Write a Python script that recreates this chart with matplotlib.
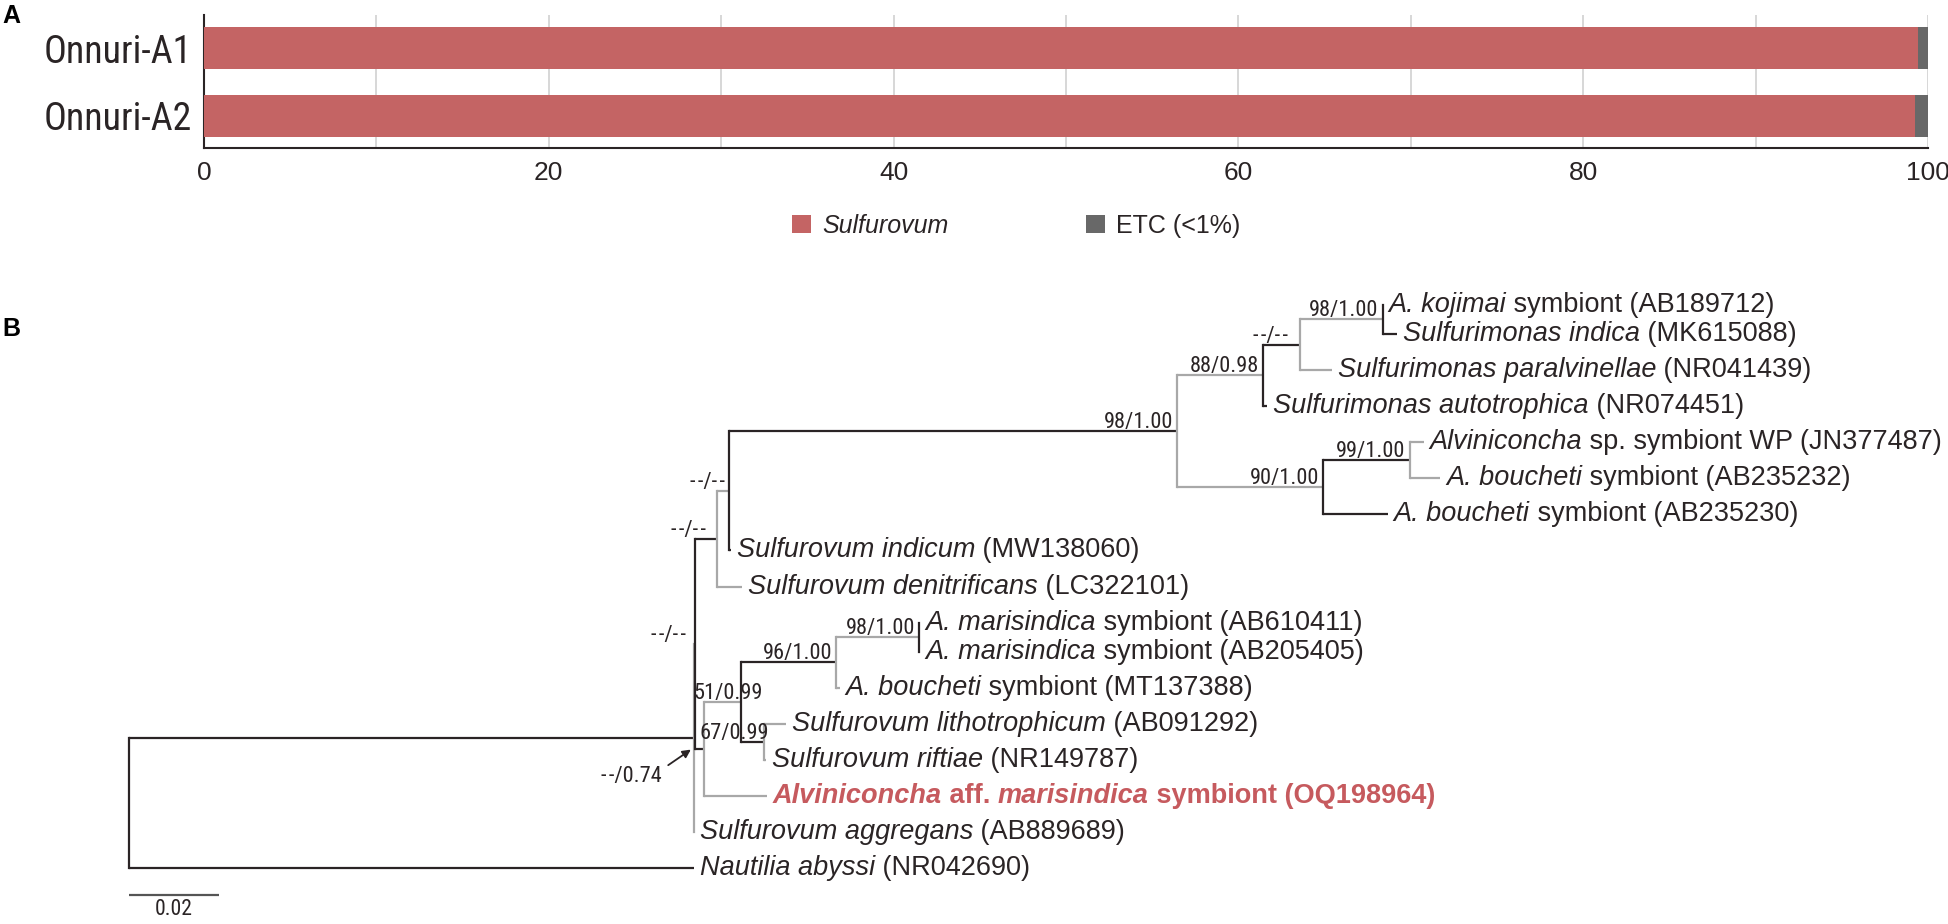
import os
import matplotlib
matplotlib.use("Agg")
import matplotlib.pyplot as plt
from matplotlib import font_manager as fm
from matplotlib.font_manager import FontProperties
from matplotlib.patches import Patch
from matplotlib.textpath import TextPath
from matplotlib.ft2font import FT2Font

# ---------------- data: panel A ----------------
samples = ["Onnuri-A1", "Onnuri-A2"]
taxa = ["Sulfurovum", "ETC (<1%)"]
sulfurovum_pct = [99.42, 99.22]
etc_pct = [0.58, 0.78]
xticks_a = [0, 20, 40, 60, 80, 100]

# ---------------- data: panel B (tree) ----------------
children = {
    "R": ["E", "NR042690"],
    "E": ["X", "AB889689"],
    "X": ["P", "F"],
    "P": ["Q", "LC322101"],
    "Q": ["K", "MW138060"],
    "K": ["L", "O"],
    "L": ["M", "NR074451"],
    "M": ["N", "NR041439"],
    "N": ["AB189712", "MK615088"],
    "O": ["P1", "AB235230"],
    "P1": ["JN377487", "AB235232"],
    "F": ["G", "OQ198964"],
    "G": ["H", "J"],
    "H": ["I", "MT137388"],
    "I": ["AB610411", "AB205405"],
    "J": ["AB091292", "NR149787"],
}
branch = {
    "E": 0.1256, "NR042690": 0.1256,
    "X": 0.0003, "AB889689": 0.0,
    "P": 0.0048, "F": 0.0019,
    "Q": 0.0027, "LC322101": 0.0056,
    "K": 0.0996, "MW138060": 0.0004,
    "L": 0.0191, "O": 0.0324,
    "M": 0.0082, "NR074451": 0.0009,
    "N": 0.0184, "NR041439": 0.0071,
    "AB189712": 0.0, "MK615088": 0.0031,
    "P1": 0.0193, "AB235230": 0.0144,
    "JN377487": 0.0031, "AB235232": 0.0067,
    "G": 0.0084, "OQ198964": 0.0140,
    "H": 0.0211, "J": 0.0051,
    "I": 0.0184, "MT137388": 0.0007,
    "AB610411": 0.0, "AB205405": 0.0,
    "AB091292": 0.0049, "NR149787": 0.0004,
}
support = {
    "K": "98/1.00", "L": "88/0.98", "M": "--/--", "N": "98/1.00",
    "P1": "99/1.00", "O": "90/1.00", "Q": "--/--", "P": "--/--",
    "X": "--/--", "H": "96/1.00", "G": "51/0.99", "J": "67/0.99",
    "I": "98/1.00",
}
arrow_support = {"E": "--/0.74"}
leaf_label = {
    "AB189712": [("A. kojimai", "i"), (" symbiont (AB189712)", "")],
    "MK615088": [("Sulfurimonas indica", "i"), (" (MK615088)", "")],
    "NR041439": [("Sulfurimonas paralvinellae", "i"), (" (NR041439)", "")],
    "NR074451": [("Sulfurimonas autotrophica", "i"), (" (NR074451)", "")],
    "JN377487": [("Alviniconcha", "i"), (" sp. symbiont WP (JN377487)", "")],
    "AB235232": [("A. boucheti", "i"), (" symbiont (AB235232)", "")],
    "AB235230": [("A. boucheti", "i"), (" symbiont (AB235230)", "")],
    "MW138060": [("Sulfurovum indicum", "i"), (" (MW138060)", "")],
    "LC322101": [("Sulfurovum denitrificans", "i"), (" (LC322101)", "")],
    "AB610411": [("A. marisindica", "i"), (" symbiont (AB610411)", "")],
    "AB205405": [("A. marisindica", "i"), (" symbiont (AB205405)", "")],
    "MT137388": [("A. boucheti", "i"), (" symbiont (MT137388)", "")],
    "AB091292": [("Sulfurovum lithotrophicum", "i"), (" (AB091292)", "")],
    "NR149787": [("Sulfurovum riftiae", "i"), (" (NR149787)", "")],
    "OQ198964": [("Alviniconcha", "bi"), (" aff. ", "b"), ("marisindica", "bi"),
                 (" symbiont (OQ198964)", "b")],
    "AB889689": [("Sulfurovum aggregans", "i"), (" (AB889689)", "")],
    "NR042690": [("Nautilia abyssi", "i"), (" (NR042690)", "")],
}
highlight = "OQ198964"
scale_len = 0.02

# ---------------- fonts ----------------
def has_font(name):
    try:
        fm.findfont(FontProperties(family=name), fallback_to_default=False)
        return True
    except Exception:
        return False


SANS = "Liberation Sans" if has_font("Liberation Sans") else "DejaVu Sans"


def find_condensed():
    prefs = ["liberationsansnarrow", "arialnarrow", "robotocondensed", "notosans",
             "opensans", "dejavusans"]
    best, best_rank = None, 99
    for f in fm.fontManager.ttflist:
        fn = os.path.basename(f.fname).lower().replace("-", "").replace("_", "")
        if f.style != "normal":
            continue
        if f.weight not in (400, "normal", "regular", "book"):
            continue
        if not ("narrow" in fn or "condensed" in fn):
            continue
        if any(w in fn for w in ("semi", "extra", "ultra", "bold", "light", "thin",
                                 "medium", "black", "italic", "mono", "serif")):
            continue
        for i, p in enumerate(prefs):
            if fn.startswith(p) and i < best_rank:
                best, best_rank = f.fname, i
    return best


_cond = find_condensed()
if _cond:
    NARROW_KW = {"fname": _cond}
    BOOST = 1.0
    _fname = _cond
else:
    NARROW_KW = {"family": SANS}
    BOOST = 1.07
    _fname = fm.findfont(FontProperties(family=SANS))

# a hair space between consecutive hyphens keeps "--" from merging into one dash
try:
    _cmap = FT2Font(_fname).get_charmap()
except Exception:
    _cmap = {}
HYPHENS = "-\u200a-" if 0x200A in _cmap else "--"


def sup_text(s):
    return s.replace("--", HYPHENS)


def narrow_fp(size):
    return FontProperties(size=size, **NARROW_KW)


def fit_size(sample, target_px):
    w = TextPath((0, 0), sample, prop=narrow_fp(100)).get_extents().width
    return 100.0 * target_px / (w * 100.0 / 72.0) * BOOST


SUP_SIZE = fit_size("98/1.00", 67)
LAB_A_SIZE = fit_size("Onnuri-A1", 139)
SCALE_SIZE = fit_size("0.02", 36)

DARK = "#2a2425"
GREY = "#a8a8a8"
RED_BAR = "#c46464"
ETC_COL = "#686868"
RED_TXT = "#c65a5e"

W, H = 1949, 924
fig = plt.figure(figsize=(W / 100, H / 100), dpi=100)

# ================= Panel A =================
axA = fig.add_axes([204 / W, 1 - 148 / H, (1928 - 204) / W, (148 - 15) / H])
ypos = list(range(len(samples)))
axA.barh(ypos, sulfurovum_pct, height=0.62, color=RED_BAR, zorder=3, linewidth=0)
axA.barh(ypos, etc_pct, left=sulfurovum_pct, height=0.62, color=ETC_COL, zorder=3, linewidth=0)
axA.set_xlim(0, 100)
axA.set_ylim(1.48, -0.49)
axA.set_yticks(ypos)
axA.set_yticklabels(samples, color=DARK)
for t in axA.get_yticklabels():
    t.set_fontproperties(narrow_fp(LAB_A_SIZE))
axA.set_xticks(xticks_a)
axA.set_xticklabels([str(v) for v in xticks_a], fontsize=19, family=SANS, color=DARK)
axA.set_xticks(list(range(10, 100, 20)), minor=True)
axA.grid(True, axis="x", which="both", color="#d4d4d4", linewidth=1.3, zorder=0)
axA.tick_params(axis="both", which="both", length=0)
axA.tick_params(axis="y", pad=9)
axA.tick_params(axis="x", pad=9)
for s in ("top", "right"):
    axA.spines[s].set_visible(False)
for s in ("left", "bottom"):
    axA.spines[s].set_color(DARK)
    axA.spines[s].set_linewidth(1.5)
axA.set_axisbelow(True)

leg = fig.legend(
    handles=[Patch(facecolor=RED_BAR), Patch(facecolor=ETC_COL)], labels=taxa,
    loc="center", bbox_to_anchor=(1016 / W, 1 - 226 / H), ncol=2, frameon=False,
    prop={"family": SANS, "size": 18}, handlelength=0.75, handleheight=0.75,
    handletextpad=0.45, columnspacing=5.5, borderaxespad=0, borderpad=0,
)
leg.get_texts()[0].set_fontstyle("italic")
for t in leg.get_texts():
    t.set_color(DARK)

fig.text(2 / W, 1 - 16 / H, "A", ha="left", va="center", fontsize=18,
         fontweight="bold", family=SANS, color="black")
fig.text(2 / W, 1 - 329 / H, "B", ha="left", va="center", fontsize=18,
         fontweight="bold", family=SANS, color="black")

# ================= Panel B =================
ROOT_PX, PX_PER_UNIT = 128.6, 4500.0
ROW0_PX, ROW_PX = 305.0, 36.1
TOP_PX = 260.0
TIGHT = 0.8          # row step for the two tightly stacked sister pairs
tight_after = {"AB189712", "AB610411"}

axB = fig.add_axes([0, 0, 1, (H - TOP_PX) / H])
axB.set_xlim(-ROOT_PX / PX_PER_UNIT, (W - ROOT_PX) / PX_PER_UNIT)
axB.set_ylim((H - ROW0_PX) / ROW_PX, (TOP_PX - ROW0_PX) / ROW_PX)
axB.axis("off")

pos_x, pos_y, depth = {}, {}, {}
state = {"row": 0.0, "prev": None}


def layout(node, x0, d):
    pos_x[node] = x0 + branch.get(node, 0.0)
    depth[node] = d
    if node in children:
        for c in children[node]:
            layout(c, pos_x[node], d + 1)
        kids = children[node]
        pos_y[node] = 0.5 * (pos_y[kids[0]] + pos_y[kids[-1]])
    else:
        if state["prev"] is not None:
            state["row"] += TIGHT if state["prev"] in tight_after else 1.0
        pos_y[node] = state["row"]
        state["prev"] = node


layout("R", 0.0, 0)

LW = 1.6
for node in sorted(children, key=lambda n: depth[n]):
    col = DARK if depth[node] % 2 == 0 else GREY
    kids = children[node]
    ys = [pos_y[k] for k in kids]
    axB.plot([pos_x[node], pos_x[node]], [min(ys), max(ys)], color=col, lw=LW,
             solid_capstyle="projecting", zorder=2 + depth[node])
    for k in kids:
        if pos_x[k] > pos_x[node]:
            axB.plot([pos_x[node], pos_x[k]], [pos_y[k], pos_y[k]], color=col, lw=LW,
                     solid_capstyle="butt", zorder=2 + depth[node])


def rich_label(ax, x, y, segments, color, size):
    prev = None
    for text, style in segments:
        kw = dict(fontsize=size, color=color, family=SANS,
                  fontstyle="italic" if "i" in style else "normal",
                  fontweight="bold" if "b" in style else "normal", zorder=30)
        if prev is None:
            prev = ax.annotate(text, xy=(x, y), xytext=(6, 0), textcoords="offset pixels",
                               ha="left", va="center", **kw)
        else:
            prev = ax.annotate(text, xy=(1, 0), xycoords=prev, ha="left", va="bottom", **kw)


for leaf, segs in leaf_label.items():
    col = RED_TXT if leaf == highlight else DARK
    rich_label(axB, pos_x[leaf], pos_y[leaf], segs, col, 19.5)

sup_offset = {"G": (21, 3), "J": (5, 3), "M": (-12, 3), "P": (-11, 3), "X": (-9, 3)}
for node, txt in support.items():
    dx, dy = sup_offset.get(node, (-4, 3))
    axB.annotate(sup_text(txt), xy=(pos_x[node], pos_y[node]), xytext=(dx, dy),
                 textcoords="offset pixels", ha="right", va="baseline",
                 fontproperties=narrow_fp(SUP_SIZE), color=DARK, zorder=30)

for node, txt in arrow_support.items():
    axB.annotate(sup_text(txt), xy=(pos_x[node] - 0.0004, pos_y[node] + 0.3),
                 xytext=(-30, -28), textcoords="offset pixels", ha="right", va="center",
                 fontproperties=narrow_fp(SUP_SIZE), color=DARK, zorder=30,
                 arrowprops=dict(arrowstyle="-|>", color=DARK, lw=1.3, shrinkA=3,
                                 shrinkB=1, mutation_scale=12, relpos=(1.0, 0.85)))

# scale bar (placed just below the outgroup)
sb_y = pos_y["NR042690"] + 27.0 / ROW_PX
axB.plot([0, scale_len], [sb_y, sb_y], color="#555555", lw=1.6, solid_capstyle="butt")
axB.annotate(f"{scale_len:.2f}", xy=(scale_len / 2, sb_y), xytext=(0, -4),
             textcoords="offset pixels", ha="center", va="top",
             fontproperties=narrow_fp(SCALE_SIZE), color=DARK)

fig.savefig("out.png", dpi=100)
